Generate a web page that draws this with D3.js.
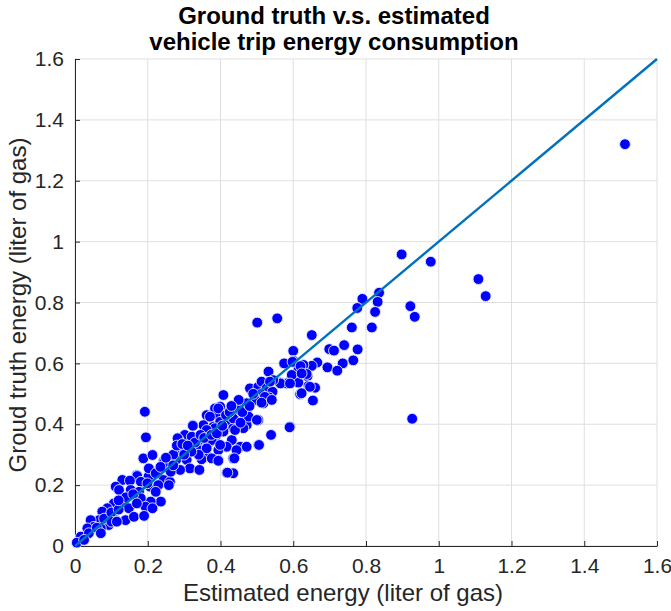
<!DOCTYPE html>
<html><head><meta charset="utf-8">
<script src="https://cdn.jsdelivr.net/npm/d3@7"></script>
<style>body{margin:0;background:#fff}svg{display:block}</style>
</head><body>
<svg id="c" width="671" height="611"></svg>
<script>
const titleLines = ["Ground truth v.s. estimated", "vehicle trip energy consumption"];
const xLabel = "Estimated energy (liter of gas)";
const yLabel = "Groud truth energy (liter of gas)";
const tickValues = [0,0.2,0.4,0.6,0.8,1,1.2,1.4,1.6];
const tickLabels = ["0","0.2","0.4","0.6","0.8","1","1.2","1.4","1.6"];
const refLine = [0, 1.6];
// estimated energy (x) and ground truth energy (y)
const estimated = [1.512,1.109,1.129,0.898,0.978,0.922,0.934,0.927,
0.836,0.832,0.825,0.790,0.776,0.761,0.816,0.651,0.556,0.501,0.600,0.699,0.712,0.740,0.777,0.575,0.600,0.765,0.736,0.694,0.721,0.666,0.630,0.651,0.614,0.597,0.639,0.582,0.614,0.642,0.660,0.564,0.598,0.628,0.532,0.620,0.637,0.596,0.565,0.591,0.646,0.619,0.654,
0.481,0.504,0.513,0.545,0.527,0.543,0.534,0.511,0.518,0.495,0.454,0.474,0.467,0.504,0.472,0.591,0.623,0.623,0.522,0.408,0.513,0.541,0.472,0.445,0.477,0.500,0.399,0.385,0.394,0.362,0.421,0.440,0.463,0.435,0.408,0.380,0.362,0.353,0.344,0.385,0.366,0.431,0.454,0.417,0.394,0.353,0.539,0.504,0.472,0.435,0.394,0.366,
0.192,0.195,0.394,0.371,0.399,0.324,0.435,0.440,0.385,0.362,0.302,0.321,0.284,0.376,0.399,0.289,0.302,0.334,0.362,0.444,0.188,0.213,0.243,0.278,0.307,0.348,0.376,0.394,0.316,0.342,0.289,0.261,0.417,0.435,0.170,0.202,0.226,0.243,0.261,0.188,0.206,0.229,
0.203,0.245,0.171,0.181,0.222,0.263,0.199,0.130,0.151,0.112,0.121,0.153,0.176,0.222,0.236,0.208,0.181,0.194,0.213,0.130,0.107,0.148,0.139,0.162,0.190,0.089,0.075,0.098,0.112,0.093,0.066,0.043,0.071,0.052,0.034,0.016,0.005,0.038,0.258,
0.282,0.324,0.506,0.438,0.419,
0.330,0.345,0.355,0.375,0.390,0.405,0.415,0.425,0.340,0.320,0.300,0.270,0.250,0.235,0.280,0.295,0.270,0.310,0.455,0.460,0.480,0.490,0.450,0.430,0.060,0.080,0.100,0.120,0.140,0.160,0.170,0.120,0.100,0.025,0.071,0.115,0.536,0.590];
const groundTruth = [1.320,0.877,0.821,0.958,0.934,0.788,0.753,0.418,
0.832,0.802,0.769,0.812,0.782,0.718,0.718,0.693,0.748,0.734,0.641,0.647,0.642,0.660,0.646,0.600,0.608,0.610,0.600,0.587,0.576,0.603,0.587,0.592,0.578,0.558,0.558,0.534,0.537,0.526,0.520,0.537,0.605,0.595,0.573,0.591,0.565,0.562,0.534,0.534,0.523,0.499,0.478,
0.518,0.523,0.540,0.545,0.518,0.507,0.488,0.499,0.469,0.480,0.460,0.452,0.425,0.414,0.397,0.392,0.567,0.502,0.490,0.496,0.471,0.480,0.469,0.447,0.425,0.414,0.458,0.452,0.430,0.430,0.414,0.414,0.387,0.387,0.376,0.392,0.370,0.397,0.348,0.354,0.337,0.348,0.326,0.326,0.315,0.315,0.365,0.332,0.326,0.288,0.283,0.293,
0.441,0.357,0.452,0.425,0.408,0.397,0.419,0.381,0.387,0.381,0.365,0.359,0.350,0.348,0.332,0.321,0.315,0.321,0.321,0.315,0.288,0.299,0.277,0.283,0.283,0.285,0.288,0.280,0.255,0.250,0.250,0.250,0.241,0.239,0.233,0.228,0.239,0.217,0.211,0.206,0.195,0.200,
0.255,0.274,0.230,0.211,0.239,0.244,0.206,0.217,0.215,0.195,0.184,0.184,0.178,0.178,0.146,0.146,0.157,0.129,0.124,0.146,0.140,0.124,0.085,0.096,0.099,0.124,0.113,0.102,0.085,0.069,0.085,0.085,0.058,0.063,0.058,0.031,0.011,0.042,0.200,
0.354,0.395,0.332,0.288,0.241,
0.340,0.365,0.355,0.365,0.370,0.395,0.430,0.440,0.300,0.310,0.300,0.300,0.290,0.260,0.330,0.335,0.265,0.330,0.405,0.440,0.460,0.500,0.480,0.460,0.060,0.090,0.110,0.120,0.160,0.170,0.140,0.150,0.080,0.020,0.042,0.080,0.540,0.390];

const svg = d3.select("#c");
const m = {l:75, r:657, t:59, b:546};
const x = d3.scaleLinear().domain([0,1.6]).range([m.l, m.r]);
const y = d3.scaleLinear().domain([0,1.6]).range([m.b, m.t]);
const font = "'Liberation Sans', Arial, Helvetica, sans-serif";
const txt = "#262626";

// grid
const g = svg.append("g");
g.selectAll("line.gx").data(tickValues).join("line")
  .attr("x1", d=>x(d)).attr("x2", d=>x(d)).attr("y1", m.t).attr("y2", m.b)
  .attr("stroke", "#dfdfdf").attr("stroke-width", 1);
g.selectAll("line.gy").data(tickValues).join("line")
  .attr("y1", d=>y(d)).attr("y2", d=>y(d)).attr("x1", m.l).attr("x2", m.r)
  .attr("stroke", "#dfdfdf").attr("stroke-width", 1);

// axes
const xAxis = d3.axisBottom(x).tickValues(tickValues).tickFormat((d,i)=>tickLabels[i]).tickSizeInner(-5).tickSizeOuter(0).tickPadding(12);
const yAxis = d3.axisLeft(y).tickValues(tickValues).tickFormat((d,i)=>tickLabels[i]).tickSizeInner(-5).tickSizeOuter(0).tickPadding(11);
const ax = svg.append("g").attr("transform", `translate(0,${m.b})`).call(xAxis);
const ay = svg.append("g").attr("transform", `translate(${m.l},0)`).call(yAxis);
[ax, ay].forEach(a => {
  a.select(".domain").attr("stroke", txt).attr("stroke-width", 1);
  a.selectAll(".tick line").attr("stroke", txt);
  a.selectAll(".tick text").attr("fill", txt).style("font-family", font).style("font-size", "21px");
});

// points
const pts = estimated.map((v,i)=>[v, groundTruth[i]]);
svg.append("g").selectAll("circle").data(pts).join("circle")
  .attr("cx", d=>x(d[0])).attr("cy", d=>y(d[1])).attr("r", 5.4)
  .attr("fill", "#0000FF").attr("stroke", "#e8ecff").attr("stroke-width", 0.9);

// reference line drawn over points
svg.append("line")
  .attr("x1", x(refLine[0])).attr("y1", y(refLine[0]))
  .attr("x2", x(refLine[1])).attr("y2", y(refLine[1]))
  .attr("stroke", "#0072BD").attr("stroke-width", 2.4);

// title
svg.append("text").attr("x", 334).attr("y", 24).attr("text-anchor","middle")
  .style("font-family", font).style("font-weight","bold").style("font-size","24px").attr("fill","#000")
  .text(titleLines[0]);
svg.append("text").attr("x", 334).attr("y", 50).attr("text-anchor","middle")
  .style("font-family", font).style("font-weight","bold").style("font-size","24px").attr("fill","#000")
  .text(titleLines[1]);

svg.append("text").attr("x", 343).attr("y", 601).attr("text-anchor","middle")
  .style("font-family", font).style("font-size","24px").attr("fill", txt).text(xLabel);
svg.append("text").attr("transform", `translate(26,305) rotate(-90)`).attr("text-anchor","middle")
  .style("font-family", font).style("font-size","24px").attr("fill", txt).text(yLabel);
</script>
</body></html>
